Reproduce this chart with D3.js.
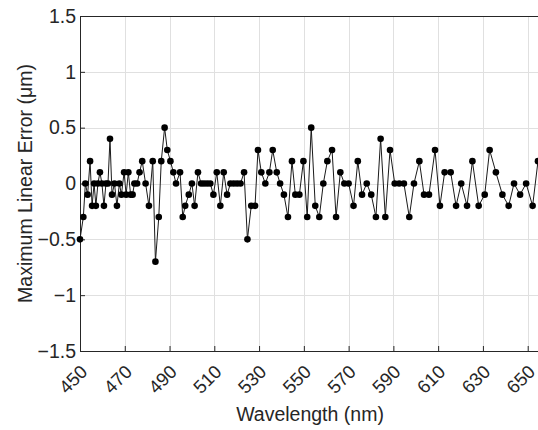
<!DOCTYPE html>
<html>
<head>
<meta charset="utf-8">
<script src="https://cdn.jsdelivr.net/npm/d3@7"></script>
<style>
  body { margin: 0; background: #fff; }
  svg { display: block; font-family: "Liberation Sans", Arial, sans-serif; }
</style>
</head>
<body>
<div id="chart"></div>
<script>
var wavelengths = [
  450.0, 451.5, 452.4, 453.4, 454.5, 455.4, 456.3, 457.1, 458.0, 458.9,
  459.8, 460.7, 461.6, 462.5, 463.4, 464.3, 465.4, 466.5, 467.6, 468.5,
  469.7, 470.6, 471.6, 472.6, 473.5, 474.3, 475.5, 476.6, 477.8, 479.3,
  480.8, 482.5, 483.7, 485.2, 486.3, 487.8, 489.0, 490.4, 491.7, 492.9,
  494.7, 495.9, 497.0, 498.6, 500.0, 501.2, 502.7, 504.1, 505.4, 506.8,
  508.2, 509.6, 511.1, 512.7, 514.2, 515.7, 517.2, 518.7, 520.2, 521.7,
  523.3, 524.8, 526.5, 528.2, 529.5, 531.0, 532.8, 534.6, 536.1, 537.9,
  539.4, 541.1, 542.9, 544.7, 546.2, 548.0, 549.8, 551.5, 553.3, 555.1,
  556.9, 558.7, 560.5, 562.6, 564.4, 566.3, 568.1, 570.0, 572.2, 574.1,
  576.0, 578.1, 580.1, 582.2, 584.3, 586.4, 588.5, 590.6, 592.6, 594.7,
  597.1, 599.2, 601.6, 603.7, 605.9, 608.6, 610.8, 612.9, 615.6, 618.0,
  620.3, 622.9, 625.3, 628.1, 630.8, 633.0, 635.8, 638.7, 641.5, 643.9,
  646.6, 649.3, 652.2, 654.6
];

// maximum linear error (um)
var errors = [
  -0.5, -0.3, 0, -0.1, 0.2, -0.2, 0, -0.2, 0, 0.1,
  0, -0.2, 0, 0, 0.4, -0.1, 0, -0.2, 0, -0.1,
  0.1, -0.1, 0.1, -0.1, -0.1, 0, 0, 0.1, 0.2, 0,
  -0.2, 0.2, -0.7, -0.3, 0.2, 0.5, 0.3, 0.2, 0.1, 0,
  0.1, -0.3, -0.2, -0.1, 0, -0.2, 0.1, 0, 0, 0,
  0, -0.1, 0.1, -0.2, 0.1, -0.1, 0, 0, 0, 0,
  0.1, -0.5, -0.2, -0.2, 0.3, 0.1, 0, 0.1, 0.3, 0.1,
  0, -0.1, -0.3, 0.2, -0.1, -0.1, 0.2, -0.3, 0.5, -0.2,
  -0.3, 0, 0.2, 0.3, -0.3, 0.1, 0, 0, -0.2, 0.2,
  -0.1, 0, -0.1, -0.3, 0.4, -0.3, 0.3, 0, 0, 0,
  -0.3, 0, 0.2, -0.1, -0.1, 0.3, -0.2, 0.1, 0.1, -0.2,
  0, -0.2, 0.2, -0.2, -0.1, 0.3, 0.1, -0.1, -0.2, 0,
  -0.1, 0, -0.2, 0.2
];

var xTicks = [450, 470, 490, 510, 530, 550, 570, 590, 610, 630, 650];
var yTicks = [-1.5, -1, -0.5, 0, 0.5, 1, 1.5];

var data = wavelengths.map(function (w, i) { return { w: w, e: errors[i] }; });

var width = 538, height = 430;
var margin = { top: 16, right: -2, bottom: 79, left: 80 };
var innerW = width - margin.left - margin.right,
    innerH = height - margin.top - margin.bottom;

var svg = d3.select("#chart").append("svg")
    .attr("width", width)
    .attr("height", height);

var g = svg.append("g")
    .attr("transform", "translate(" + margin.left + "," + margin.top + ")");

var x = d3.scaleLinear().domain([450, 655.5]).range([0, innerW]);
var y = d3.scaleLinear().domain([-1.5, 1.5]).range([innerH, 0]);

var fmt = function (d) { return d < 0 ? "\u2212" + Math.abs(d) : "" + d; };

// grid
g.append("g").selectAll("line")
    .data(xTicks)
    .enter().append("line")
    .attr("x1", function (d) { return Math.round(x(d)) + 0.5; })
    .attr("x2", function (d) { return Math.round(x(d)) + 0.5; })
    .attr("y1", 0).attr("y2", innerH)
    .attr("stroke", "#e0e0e0");

g.append("g").selectAll("line")
    .data(yTicks)
    .enter().append("line")
    .attr("x1", 0).attr("x2", innerW)
    .attr("y1", function (d) { return Math.round(y(d)) + 0.5; })
    .attr("y2", function (d) { return Math.round(y(d)) + 0.5; })
    .attr("stroke", "#e0e0e0");

// axes (MATLAB style: ticks pointing in)
var yAxis = g.append("g")
    .call(d3.axisLeft(y).tickValues(yTicks).tickFormat(fmt).tickSizeInner(-5).tickSizeOuter(0).tickPadding(4));
var xAxis = g.append("g")
    .attr("transform", "translate(0," + innerH + ")")
    .call(d3.axisBottom(x).tickValues(xTicks).tickSizeInner(-5).tickSizeOuter(0));

[yAxis, xAxis].forEach(function (a) {
  a.select(".domain").attr("stroke", "#262626");
  a.selectAll(".tick line").attr("stroke", "#262626");
  a.selectAll("text").attr("fill", "#262626").style("font-size", "19.5px");
});

xAxis.selectAll(".tick text")
    .style("font-size", "18.5px")
    .attr("text-anchor", "end")
    .attr("transform", "translate(8,22) rotate(-45)")
    .attr("x", 0).attr("y", 0).attr("dy", "0");

// top box line
g.append("line")
    .attr("x1", 0).attr("x2", innerW)
    .attr("y1", 0.5).attr("y2", 0.5)
    .attr("stroke", "#262626");

// series
var line = d3.line()
    .x(function (d) { return x(d.w); })
    .y(function (d) { return y(d.e); });

g.append("path")
    .datum(data)
    .attr("fill", "none")
    .attr("stroke", "#1a1a1a")
    .attr("stroke-width", 1)
    .attr("d", line);

g.append("g").selectAll("circle")
    .data(data)
    .enter().append("circle")
    .attr("cx", function (d) { return x(d.w); })
    .attr("cy", function (d) { return y(d.e); })
    .attr("r", 3.3)
    .attr("fill", "#000");

// labels
svg.append("text")
    .attr("x", 310).attr("y", 421)
    .attr("text-anchor", "middle")
    .attr("fill", "#262626")
    .style("font-size", "19.5px")
    .text("Wavelength (nm)");

svg.append("text")
    .attr("transform", "translate(32," + (margin.top + innerH / 2) + ") rotate(-90)")
    .attr("text-anchor", "middle")
    .attr("fill", "#262626")
    .style("font-size", "19.5px")
    .text("Maximum Linear Error (\u03bcm)");
</script>
</body>
</html>
